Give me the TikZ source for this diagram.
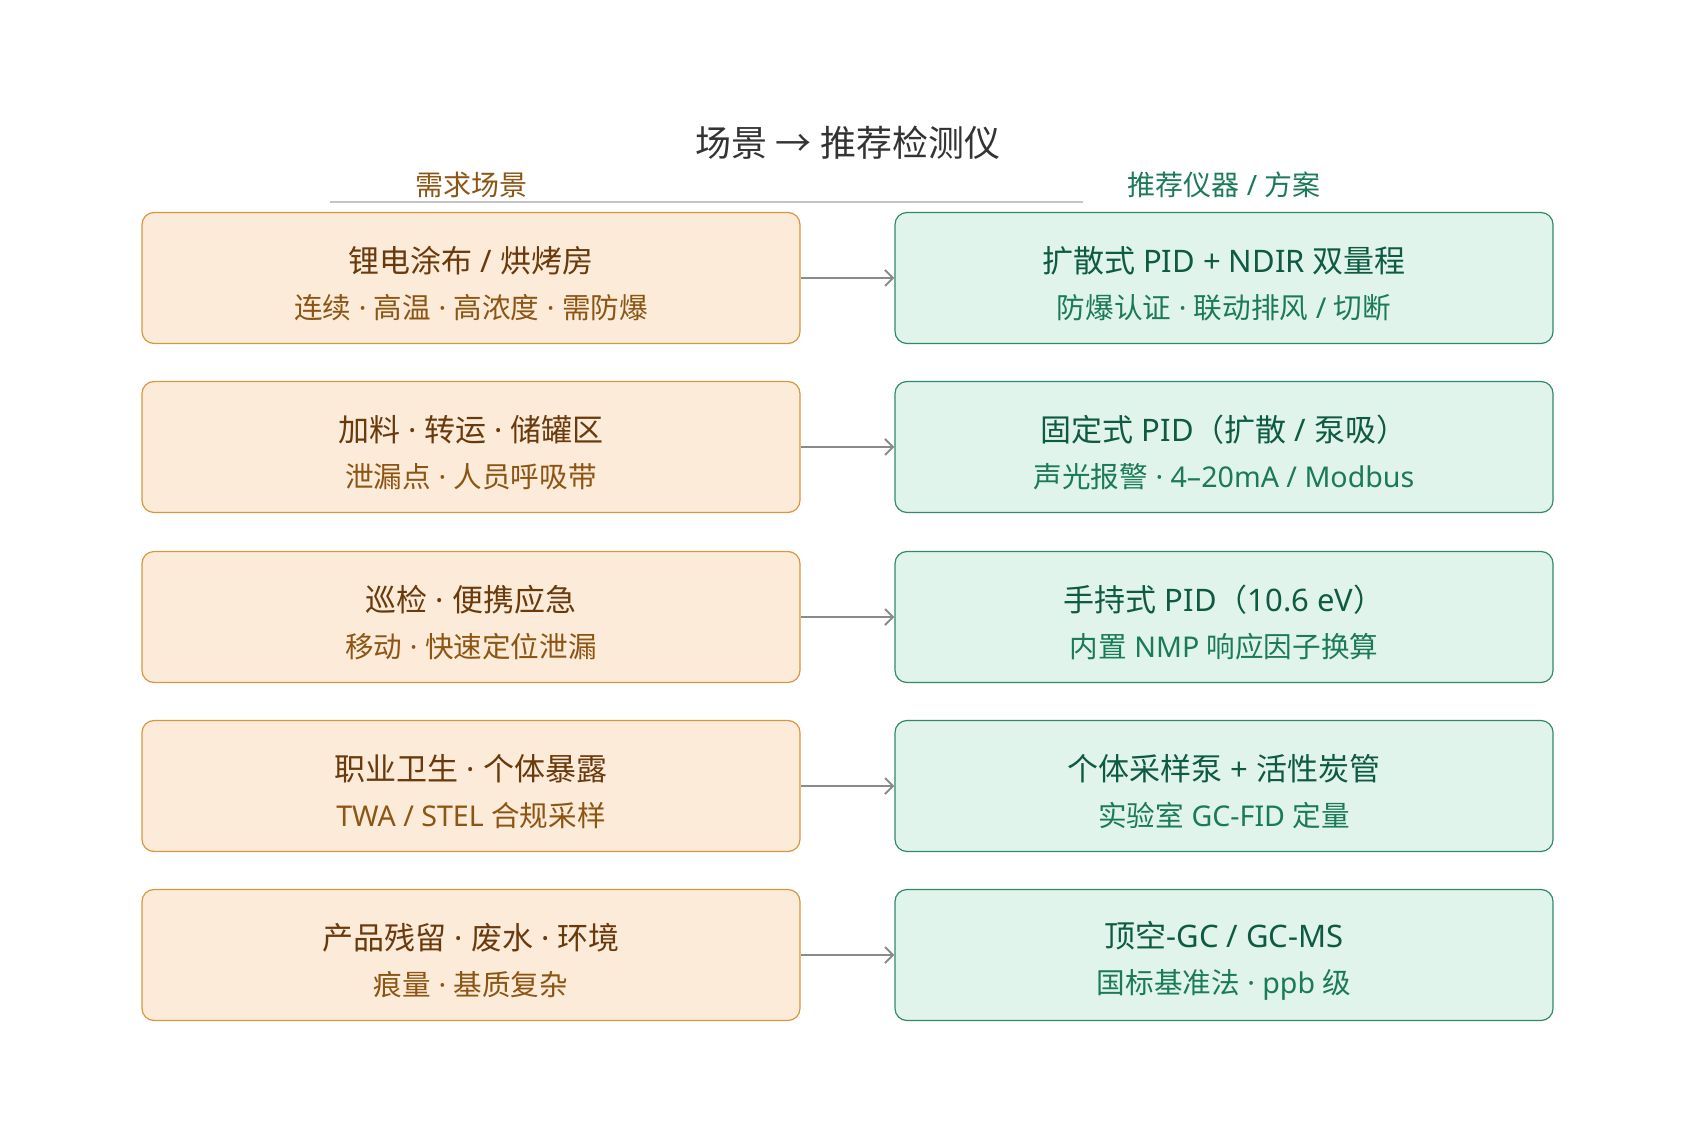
\documentclass[tikz,border=0pt]{standalone}
\usepackage{fontspec}
\setmainfont{Noto Sans CJK SC}
\newfontfamily\latinsans{Noto Sans}
\usetikzlibrary{positioning,arrows.meta}
\definecolor{scenefill}{HTML}{FBEBD8}
\definecolor{sceneedge}{HTML}{D8963E}
\definecolor{scenetext}{HTML}{6A3A0C}
\definecolor{scenesub}{HTML}{8C5514}
\definecolor{devicefill}{HTML}{E1F4EC}
\definecolor{deviceedge}{HTML}{2E8A68}
\definecolor{devicetext}{HTML}{0E5A43}
\definecolor{devicesub}{HTML}{1B7A57}
\definecolor{rulegray}{HTML}{C4C4C4}
\definecolor{linkgray}{HTML}{8A8A8A}
\newcommand{\lt}[1]{{\latinsans #1}}
\newcommand{\md}{\lt{ · }}
\newcommand{\twolines}[3]{\rule{0pt}{19pt}#1\\{\fontsize{14.3}{23}\selectfont\color{#3}#2}}

\begin{document}
\begin{tikzpicture}[x=0.5pt,y=-0.5pt,
    scene/.style={draw=sceneedge, fill=scenefill, text=scenetext, rounded corners=6pt,
      line width=0.6pt, minimum width=329pt, minimum height=65.5pt, align=center,
      font=\fontsize{15.5}{23}\selectfont},
    device/.style={scene, draw=deviceedge, fill=devicefill, text=devicetext},
    link/.style={-{Straight Barb[length=4pt,width=8pt]}, draw=linkgray, line width=1pt}]
    \useasboundingbox (0,0) rectangle (1696,1122);
    % Draw the title and the two column headings with the rule under them.
    \node[text=black!80, font=\fontsize{18}{21}\selectfont] (title) at (848,143) {场景 → 推荐检测仪};
    \node[text=scenesub, font=\fontsize{14}{17}\selectfont] (needhead) at (471,185) {需求场景};
    \node[text=devicesub, font=\fontsize{14}{17}\selectfont] (devhead) at (1224,185) {推荐仪器\lt{ / }方案};
    \draw[rulegray, line width=0.8pt] (330,202) coordinate (rulea) -- (1083,202) coordinate (ruleb);
    % Draw the scenes on the left.
    \node[scene] (s1) at (471,278) {\twolines{锂电涂布\lt{ / }烘烤房}{连续\md 高温\md 高浓度\md 需防爆}{scenesub}};
    \node[scene] (s2) at (471,447) {\twolines{加料\md 转运\md 储罐区}{泄漏点\md 人员呼吸带}{scenesub}};
    \node[scene] (s3) at (471,617) {\twolines{巡检\md 便携应急}{移动\md 快速定位泄漏}{scenesub}};
    \node[scene] (s4) at (471,786) {\twolines{职业卫生\md 个体暴露}{\lt{TWA / STEL }合规采样}{scenesub}};
    \node[scene] (s5) at (471,955) {\twolines{产品残留\md 废水\md 环境}{痕量\md 基质复杂}{scenesub}};
    % Draw the recommended instruments on the right.
    \node[device] (d1) at (1224,278) {\twolines{扩散式\lt{ PID + NDIR }双量程}{防爆认证\md 联动排风\lt{ / }切断}{devicesub}};
    \node[device] (d2) at (1224,447) {\twolines{固定式\lt{ PID}（扩散\lt{ / }泵吸）}{声光报警\md\lt{4–20mA / Modbus}}{devicesub}};
    \node[device] (d3) at (1224,617) {\twolines{手持式\lt{ PID}（\lt{10.6 eV}）}{内置\lt{ NMP }响应因子换算}{devicesub}};
    \node[device] (d4) at (1224,786) {\twolines{个体采样泵\lt{ + }活性炭管}{实验室\lt{ GC-FID }定量}{devicesub}};
    \node[device] (d5) at (1224,955) {\twolines{顶空\lt{-GC / GC-MS}}{国标基准法\md\lt{ppb }级}{devicesub}};
    % Draw the arrows from each scene to its instrument.
    \draw[link] (s1) -- (d1);
    \draw[link] (s2) -- (d2);
    \draw[link] (s3) -- (d3);
    \draw[link] (s4) -- (d4);
    \draw[link] (s5) -- (d5);
\end{tikzpicture}
\end{document}
